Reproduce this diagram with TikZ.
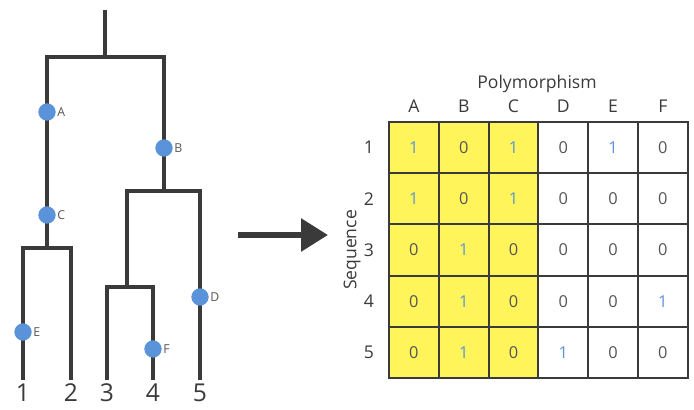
\documentclass[tikz,border=0pt]{standalone}
\usepackage{fontspec}
\setmainfont{Open Sans}
\usetikzlibrary{positioning}
\usetikzlibrary{arrows.meta}
\definecolor{branch}{HTML}{3A3A3A}
\definecolor{mutblue}{HTML}{5B93DB}
\definecolor{cellyellow}{HTML}{FFF45A}
\definecolor{zerogray}{HTML}{555555}
\newcommand{\fsz}[1]{\fontsize{#1}{#1}\selectfont}

\begin{document}
\begin{tikzpicture}
  [
    x=0.03cm, y=-0.03cm,
    branch/.style={draw=branch, line width=3.4pt},
    mutation/.style={
      circle,
      fill=mutblue,
      inner sep=0pt,
      minimum size=0.52cm
    },
    mutlabel/.style={font=\fsz{10.5}, text=zerogray, inner sep=0pt},
    leaf/.style={font=\fsz{21}, text=branch, inner sep=0pt},
    cell/.style={
      rectangle,
      draw=branch,
      line width=1.6pt,
      minimum width=1.494cm, minimum height=1.536cm,
      font=\fsz{14}
    },
    head/.style={font=\fsz{15}, text=branch, inner sep=0pt},
    bigarrow/.style={draw=branch, line width=5pt,
      -{Triangle[length=0.81cm,width=0.96cm]}},
  ]
  \useasboundingbox (0,0) rectangle (694,409);

  % tree
  \coordinate (root) at (105,10);
  \coordinate (n0) at (105,57);
  \coordinate (n1) at (47,248);
  \coordinate (n2) at (164,191);
  \coordinate (n3) at (127,287);
  \coordinate (l1) at (23,380);
  \coordinate (l2) at (71,380);
  \coordinate (l3) at (107,380);
  \coordinate (l4) at (153,380);
  \coordinate (l5) at (200,380);

  \draw[branch] (root) -- (n0);
  \draw[branch] (n1) |- (n0) -| (n2);
  \draw[branch] (l1) |- (n1) -| (l2);
  \draw[branch] (l5) |- (n2) -| (n3);
  \draw[branch] (l3) |- (n3) -| (l4);

  \foreach \leafnum in {1,...,5}
    \node[leaf, below=0.1cm of l\leafnum] (s\leafnum) {\leafnum};

  \node[mutation] (A) at (47,112)  {};
  \node[mutation] (B) at (164,148) {};
  \node[mutation] (C) at (47,215)  {};
  \node[mutation] (D) at (200,297) {};
  \node[mutation] (E) at (23,332)  {};
  \node[mutation] (F) at (153,349) {};
  \foreach \mut in {A,...,F}
    \node[mutlabel, right=1pt of \mut] (\mut-lab) {\mut};

  % arrow
  \coordinate (arr-start) at (238,235);
  \coordinate (arr-end) at (328,235);
  \draw[bigarrow] (arr-start) -- (arr-end);

  % matrix
  \foreach \row [count=\i] in {{1,0,1,0,1,0},{1,0,1,0,0,0},{0,1,0,0,0,0},
                               {0,1,0,0,0,1},{0,1,0,1,0,0}} {
    \foreach \v [count=\j] in \row {
      \ifnum\j<4 \def\cellfill{cellyellow}\else\def\cellfill{white}\fi
      \ifnum\v=1 \def\valcol{mutblue}\else\def\valcol{zerogray}\fi
      \node[cell, fill=\cellfill, text=\valcol]
        (c-\i-\j) at ({389+49.8*(\j-0.5)},{122+51.2*(\i-0.5)}) {\v};
    }
    \node[head, left=0.42cm of c-\i-1] (r-\i) {\i};
  }
  \foreach \col [count=\j] in {A,...,F}
    \node[head, above=0.24cm of c-1-\j] (h-\j) {\col};

  \node[head, anchor=base] (poly) at (537,88) {Polymorphism};
  \node[head, rotate=90] (seq) at (352,250) {Sequence};
\end{tikzpicture}
\end{document}
